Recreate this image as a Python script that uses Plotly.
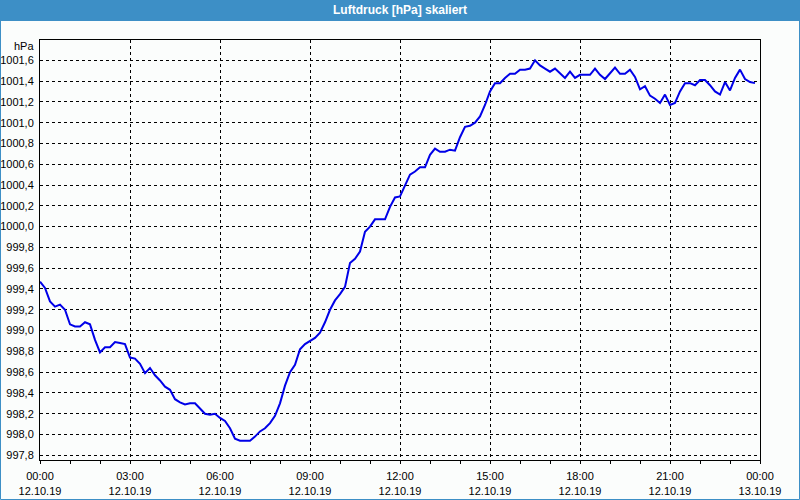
import pandas as pd
import plotly.graph_objects as go

# --- data (10-minute readings, 12.10.19 00:00 .. 23:50) ---
start_time = "2019-10-12 00:00"
interval = "10min"
pressure_hpa = [
    999.47, 999.41, 999.28, 999.23, 999.25, 999.20, 999.06, 999.04, 999.04, 999.08,
    999.06, 998.91, 998.79, 998.84, 998.84, 998.89, 998.88, 998.87, 998.74, 998.73,
    998.68, 998.59, 998.64, 998.57, 998.52, 998.46, 998.43, 998.34, 998.31, 998.29,
    998.30, 998.30, 998.25, 998.20, 998.19, 998.20, 998.16, 998.13, 998.06, 997.96,
    997.94, 997.94, 997.94, 997.98, 998.03, 998.06, 998.11, 998.18, 998.30, 998.47,
    998.60, 998.67, 998.82, 998.87, 998.90, 998.93, 998.98, 999.08, 999.20, 999.29,
    999.35, 999.42, 999.65, 999.69, 999.76, 999.95, 1000.00, 1000.07, 1000.07, 1000.07,
    1000.19, 1000.28, 1000.29, 1000.40, 1000.50, 1000.53, 1000.57, 1000.57, 1000.69, 1000.75,
    1000.72, 1000.72, 1000.74, 1000.73, 1000.86, 1000.96, 1000.97, 1001.00, 1001.06, 1001.17,
    1001.30, 1001.38, 1001.38, 1001.43, 1001.47, 1001.47, 1001.51, 1001.51, 1001.52, 1001.60,
    1001.55, 1001.52, 1001.49, 1001.52, 1001.47, 1001.43, 1001.49, 1001.43, 1001.46, 1001.46,
    1001.46, 1001.52, 1001.46, 1001.42, 1001.48, 1001.53, 1001.47, 1001.47, 1001.51, 1001.44,
    1001.32, 1001.35, 1001.26, 1001.23, 1001.19, 1001.27, 1001.17, 1001.19, 1001.30, 1001.38,
    1001.38, 1001.36, 1001.41, 1001.41, 1001.36, 1001.30, 1001.27, 1001.39, 1001.31, 1001.43,
    1001.51, 1001.42, 1001.39, 1001.38,
]
times = pd.date_range(start_time, periods=len(pressure_hpa), freq=interval)

x_tick_times = ["2019-10-12 00:00", "2019-10-12 03:00", "2019-10-12 06:00",
                "2019-10-12 09:00", "2019-10-12 12:00", "2019-10-12 15:00",
                "2019-10-12 18:00", "2019-10-12 21:00", "2019-10-13 00:00"]
x_tick_labels = ["00:00<br>12.10.19", "03:00<br>12.10.19", "06:00<br>12.10.19",
                 "09:00<br>12.10.19", "12:00<br>12.10.19", "15:00<br>12.10.19",
                 "18:00<br>12.10.19", "21:00<br>12.10.19", "00:00<br>13.10.19"]
y_tick_vals = [997.8 + 0.2 * i for i in range(20)]
y_tick_labels = [f"{v:.1f}".replace(".", ",") for v in y_tick_vals]

title_text = "Luftdruck [hPa] skaliert"
unit_text = "hPa"

FONT = "Liberation Sans"
BAR = "#3d8fc6"
BG = "#fbfdfc"

fig = go.Figure()
fig.add_trace(go.Scatter(
    x=times, y=pressure_hpa, mode="lines",
    line=dict(color="#0000e8", width=2),
    hoverinfo="skip", showlegend=False,
))

fig.update_layout(
    width=800, height=500,
    margin=dict(l=40, r=40, t=40, b=40, autoexpand=False),
    paper_bgcolor=BG,
    plot_bgcolor=BG,
    font=dict(family=FONT, size=11, color="#000000"),
    showlegend=False,
)

fig.update_xaxes(
    type="date", automargin=False,
    range=["2019-10-12 00:00", "2019-10-13 00:00"],
    tickmode="array", tickvals=x_tick_times, ticktext=x_tick_labels,
    ticks="outside", ticklen=3, tickcolor="#000000", ticklabelstandoff=3,
    showgrid=True, gridcolor="#000000", gridwidth=1, griddash="3px,3px",
    showline=True, linecolor="#000000", linewidth=1, mirror=True,
    minor=dict(dtick=3600000, ticks="outside", ticklen=3, tickcolor="#000000", showgrid=False),
    zeroline=False,
    tickfont=dict(family=FONT, size=11, color="#000000"),
)
fig.update_yaxes(
    automargin=False,
    range=[997.755, 1001.795],
    tickmode="array", tickvals=y_tick_vals, ticktext=y_tick_labels,
    ticks="", ticklabelstandoff=3,
    showgrid=True, gridcolor="#000000", gridwidth=1, griddash="3px,3px",
    showline=True, linecolor="#000000", linewidth=1, mirror=True,
    zeroline=False,
    tickfont=dict(family=FONT, size=11, color="#000000"),
)

# title bar and outer frame (paper coordinates relative to plot area)
plot_w, plot_h = 720.0, 420.0
x0 = -40 / plot_w
x1 = 1 + 40 / plot_w
y_top = 1 + 40 / plot_h
y_bar = 1 + 19 / plot_h
y_bot = -40 / plot_h
fig.add_shape(type="rect", xref="paper", yref="paper",
              x0=x0, x1=x1, y0=y_bar, y1=y_top,
              fillcolor=BAR, line=dict(width=0), layer="below")
fig.add_shape(type="rect", xref="paper", yref="paper",
              x0=x0 + 0.5 / plot_w, x1=x1 - 0.5 / plot_w,
              y0=y_bot + 0.5 / plot_h, y1=y_top - 0.5 / plot_h,
              fillcolor="rgba(0,0,0,0)", line=dict(color=BAR, width=1), layer="above")

fig.add_annotation(text=f"<b>{title_text}</b>", xref="paper", yref="paper",
                   x=0.5, y=1 + 30 / plot_h, xanchor="center", yanchor="middle",
                   showarrow=False, font=dict(family=FONT, size=12, color="#ffffff"))
fig.add_annotation(text=unit_text, xref="paper", yref="paper",
                   x=-4 / plot_w, y=1 - 6 / plot_h, xanchor="right", yanchor="middle",
                   showarrow=False, font=dict(family=FONT, size=11, color="#000000"))

fig.write_html("out.html")
